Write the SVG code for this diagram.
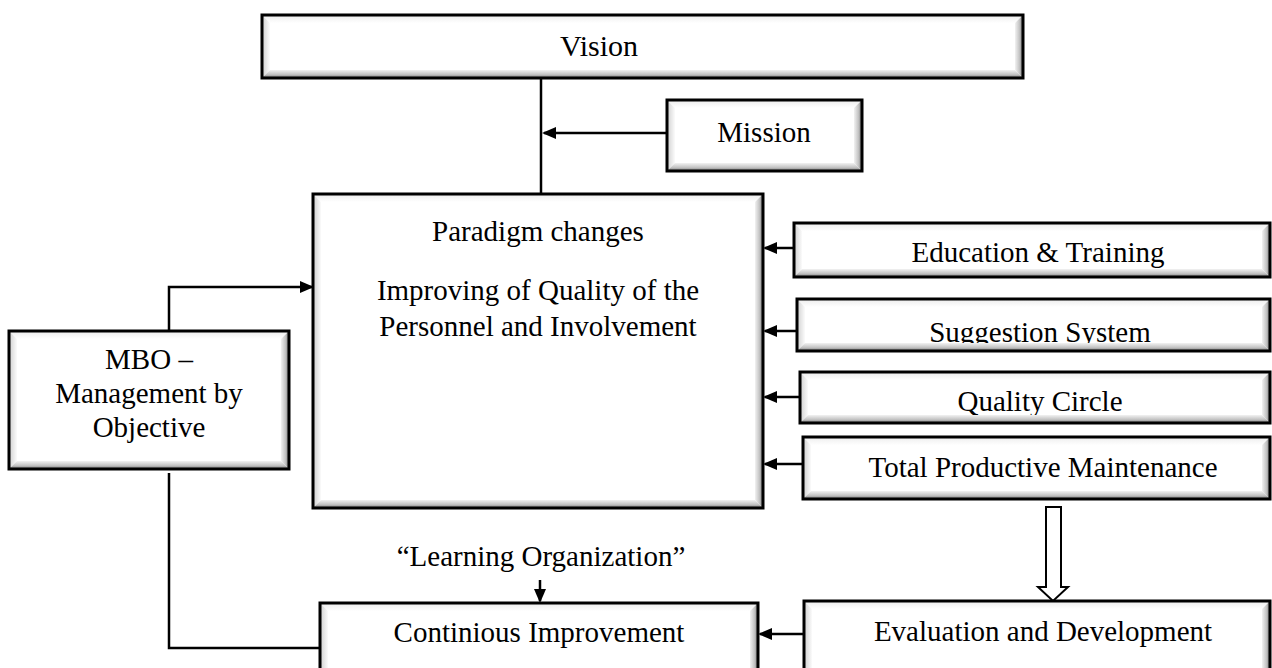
<svg xmlns="http://www.w3.org/2000/svg" width="1272" height="668" viewBox="0 0 1272 668">
<defs>
<linearGradient id="gB" x1="0" y1="0" x2="0" y2="1"><stop offset="0" stop-color="#f2f2f2"/><stop offset="0.55" stop-color="#c4c4c4"/><stop offset="1" stop-color="#7a7a7a"/></linearGradient>
<linearGradient id="gR" x1="0" y1="0" x2="1" y2="0"><stop offset="0" stop-color="#f2f2f2"/><stop offset="0.55" stop-color="#c4c4c4"/><stop offset="1" stop-color="#7a7a7a"/></linearGradient>
<linearGradient id="gL" x1="0" y1="0" x2="1" y2="0"><stop offset="0" stop-color="#cfcfcf"/><stop offset="1" stop-color="#fbfbfb"/></linearGradient>
<linearGradient id="gT" x1="0" y1="0" x2="0" y2="1"><stop offset="0" stop-color="#ececec"/><stop offset="1" stop-color="#ffffff"/></linearGradient>
<marker id="ah" viewBox="0 0 14 12" refX="12" refY="6" markerWidth="14" markerHeight="12" orient="auto" markerUnits="userSpaceOnUse"><path d="M0,0 L14,6 L0,12 Z" fill="#000"/></marker>
</defs>
<style>
.bg{fill:#fff}
.bb{fill:url(#gB)}
.br{fill:url(#gR)}
.bl{fill:url(#gL)}
.bt{fill:url(#gT)}
.frame{fill:none;stroke:#000;stroke-width:3}
.t{font-family:"Liberation Serif","Times New Roman",serif;font-size:29px;fill:#000;text-anchor:middle}
.c{fill:none;stroke:#000;stroke-width:2.5}
.ca{fill:none;stroke:#000;stroke-width:2.5;marker-end:url(#ah)}
</style>
<rect width="1272" height="668" fill="#fff"/>

<g id="connectors">
<path class="c" d="M541,78 V194"/>
<path class="ca" d="M667,133 H544"/>
<path class="ca" d="M794,248 H765"/>
<path class="ca" d="M797,331 H765"/>
<path class="ca" d="M800,397 H765"/>
<path class="ca" d="M803,464 H765"/>
<path class="ca" d="M169,331 V287 H312"/>
<path class="c" d="M169,473 V648 H320"/>
<path class="ca" d="M540,580 V601"/>
<path class="ca" d="M804,634 H760"/>
<polygon points="1046,507 1061,507 1061,587 1068,587 1053,601 1038,587 1046,587" fill="#fff" stroke="#000" stroke-width="2"/>
</g>

<g id="vision">
<rect class="bg" x="262" y="15" width="761" height="63"/>
<text class="t" x="599" y="56" style="font-size:30px">Vision</text>
<polygon class="bt" points="262,15 1023,15 1015,23 270,23"/>
<polygon class="bl" points="262,15 270,23 270,70 262,78"/>
<polygon class="bb" points="262,78 1023,78 1015,70 270,70"/>
<polygon class="br" points="1023,15 1023,78 1015,70 1015,23"/>
<rect class="frame" x="262" y="15" width="761" height="63"/>
</g>

<g id="mission">
<rect class="bg" x="667" y="100" width="195" height="71"/>
<text class="t" x="764" y="142">Mission</text>
<polygon class="bt" points="667,100 862,100 854,108 675,108"/>
<polygon class="bl" points="667,100 675,108 675,163 667,171"/>
<polygon class="bb" points="667,171 862,171 854,163 675,163"/>
<polygon class="br" points="862,100 862,171 854,163 854,108"/>
<rect class="frame" x="667" y="100" width="195" height="71"/>
</g>

<g id="paradigm">
<rect class="bg" x="313" y="194" width="450" height="314"/>
<text class="t" x="538" y="241">Paradigm changes</text>
<text class="t" x="538" y="300">Improving of Quality of the</text>
<text class="t" x="538" y="336">Personnel and Involvement</text>
<polygon class="bt" points="313,194 763,194 755,202 321,202"/>
<polygon class="bl" points="313,194 321,202 321,500 313,508"/>
<polygon class="bb" points="313,508 763,508 755,500 321,500"/>
<polygon class="br" points="763,194 763,508 755,500 755,202"/>
<rect class="frame" x="313" y="194" width="450" height="314"/>
</g>

<g id="education">
<rect class="bg" x="794" y="223" width="476" height="54"/>
<text class="t" x="1038" y="262">Education &amp; Training</text>
<polygon class="bt" points="794,223 1270,223 1262,231 802,231"/>
<polygon class="bl" points="794,223 802,231 802,269 794,277"/>
<polygon class="bb" points="794,277 1270,277 1262,269 802,269"/>
<polygon class="br" points="1270,223 1270,277 1262,269 1262,231"/>
<rect class="frame" x="794" y="223" width="476" height="54"/>
</g>

<g id="suggestion">
<rect class="bg" x="797" y="299" width="473" height="52"/>
<text class="t" x="1040" y="342">Suggestion System</text>
<polygon class="bt" points="797,299 1270,299 1262,307 805,307"/>
<polygon class="bl" points="797,299 805,307 805,343 797,351"/>
<polygon class="bb" points="797,351 1270,351 1262,343 805,343"/>
<polygon class="br" points="1270,299 1270,351 1262,343 1262,307"/>
<rect class="frame" x="797" y="299" width="473" height="52"/>
</g>

<g id="quality">
<rect class="bg" x="800" y="372" width="470" height="51"/>
<text class="t" x="1040" y="411">Quality Circle</text>
<polygon class="bt" points="800,372 1270,372 1262,380 808,380"/>
<polygon class="bl" points="800,372 808,380 808,415 800,423"/>
<polygon class="bb" points="800,423 1270,423 1262,415 808,415"/>
<polygon class="br" points="1270,372 1270,423 1262,415 1262,380"/>
<rect class="frame" x="800" y="372" width="470" height="51"/>
</g>

<g id="tpm">
<rect class="bg" x="803" y="437" width="467" height="62"/>
<text class="t" x="1043" y="477">Total Productive Maintenance</text>
<polygon class="bt" points="803,437 1270,437 1262,445 811,445"/>
<polygon class="bl" points="803,437 811,445 811,491 803,499"/>
<polygon class="bb" points="803,499 1270,499 1262,491 811,491"/>
<polygon class="br" points="1270,437 1270,499 1262,491 1262,445"/>
<rect class="frame" x="803" y="437" width="467" height="62"/>
</g>

<g id="evaluation">
<rect class="bg" x="804" y="601" width="466" height="76"/>
<text class="t" x="1043" y="641">Evaluation and Development</text>
<polygon class="bt" points="804,601 1270,601 1262,609 812,609"/>
<polygon class="bl" points="804,601 812,609 812,669 804,677"/>
<polygon class="bb" points="804,677 1270,677 1262,669 812,669"/>
<polygon class="br" points="1270,601 1270,677 1262,669 1262,609"/>
<rect class="frame" x="804" y="601" width="466" height="76"/>
</g>

<g id="continuous">
<rect class="bg" x="320" y="603" width="438" height="74"/>
<text class="t" x="539" y="642">Continious Improvement</text>
<polygon class="bt" points="320,603 758,603 750,611 328,611"/>
<polygon class="bl" points="320,603 328,611 328,669 320,677"/>
<polygon class="bb" points="320,677 758,677 750,669 328,669"/>
<polygon class="br" points="758,603 758,677 750,669 750,611"/>
<rect class="frame" x="320" y="603" width="438" height="74"/>
</g>

<g id="learning">
<text class="t" x="541" y="566">“Learning Organization”</text>
</g>

<g id="mbo">
<rect class="bg" x="9" y="331" width="280" height="138"/>
<text class="t" x="149" y="369">MBO –</text>
<text class="t" x="149" y="403">Management by</text>
<text class="t" x="149" y="437">Objective</text>
<polygon class="bt" points="9,331 289,331 281,339 17,339"/>
<polygon class="bl" points="9,331 17,339 17,461 9,469"/>
<polygon class="bb" points="9,469 289,469 281,461 17,461"/>
<polygon class="br" points="289,331 289,469 281,461 281,339"/>
<rect class="frame" x="9" y="331" width="280" height="138"/>
</g>
</svg>
